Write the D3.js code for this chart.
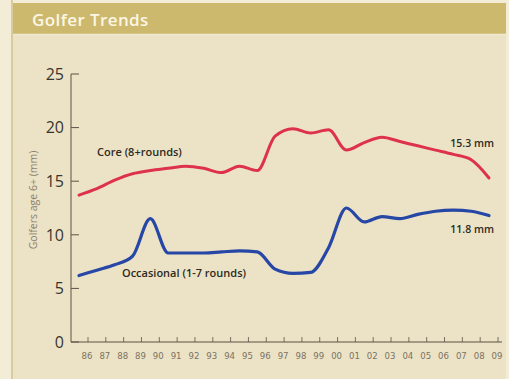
<!DOCTYPE html>
<html>
<head>
<meta charset="utf-8">
<script src="https://cdn.jsdelivr.net/npm/d3@7/dist/d3.min.js"></script>
<style>
  html, body { margin: 0; padding: 0; background: #f3ecd6; }
  svg { display: block; }
</style>
</head>
<body>
<svg id="chart" width="509" height="379"></svg>
<script>
// Golfers age 6+ (millions), by year
const years = d3.range(1986, 2010);
const yearLabels = ["86","87","88","89","90","91","92","93","94","95","96","97",
                    "98","99","00","01","02","03","04","05","06","07","08","09"];
const coreValues = [13.7, 14.3, 15.1, 15.7, 16.0, 16.2, 16.4, 16.2, 15.8, 16.4, 16.0, 19.2,
                    19.9, 19.5, 19.8, 17.9, 18.6, 19.1, 18.7, 18.3, 17.9, 17.5, 17.0, 15.3];
const occasionalValues = [6.2, 6.7, 7.2, 8.0, 11.5, 8.3, 8.3, 8.3, 8.4, 8.5, 8.4, 6.8,
                          6.4, 6.5, 8.8, 12.5, 11.2, 11.7, 11.5, 11.9, 12.2, 12.3, 12.2, 11.8];
const yTicks = [0, 5, 10, 15, 20, 25];

const svg = d3.select("#chart");
const W = 509, H = 379;
const font = "'Open Sans', 'DejaVu Sans', sans-serif";

// frame: outer strip, thin rule, panel, title bar
svg.append("rect").attr("x", 0).attr("y", 0).attr("width", W).attr("height", H).attr("fill", "#f3ecd6");
svg.append("rect").attr("x", 12).attr("y", 3).attr("width", 494).attr("height", H - 3).attr("fill", "#ece3c6");
svg.append("line").attr("x1", 12).attr("x2", 12).attr("y1", 0).attr("y2", H)
  .attr("stroke", "#d8cc9e").attr("stroke-width", 2);
svg.append("rect").attr("x", 13).attr("y", 3).attr("width", 493).attr("height", 31).attr("fill", "#cdb96d");
svg.append("line").attr("x1", 13).attr("x2", 506).attr("y1", 34.5).attr("y2", 34.5)
  .attr("stroke", "#f1e9cf").attr("stroke-width", 1.5);
svg.append("text").attr("x", 32).attr("y", 25.5)
  .attr("font-family", font)
  .attr("font-weight", 600).attr("font-size", 17).attr("fill", "#fbf6e6")
  .attr("letter-spacing", 0.4)
  .text("Golfer Trends");

const x = d3.scaleLinear().domain([1986, 2009]).range([79, 489]);
const y = d3.scaleLinear().domain([0, 25]).range([342, 74]);
const axisX0 = 71, axisX1 = 502;

// y axis
const gy = svg.append("g").attr("transform", `translate(${axisX0},0)`);
gy.append("line").attr("x1", 0).attr("x2", 0).attr("y1", y(25)).attr("y2", y(0))
  .attr("stroke", "#5a5246").attr("stroke-width", 1);
gy.selectAll("line.tick").data(yTicks).join("line").attr("class", "tick")
  .attr("x1", 0).attr("x2", 8).attr("y1", d => y(d)).attr("y2", d => y(d))
  .attr("stroke", "#5a5246").attr("stroke-width", 1);
gy.selectAll("text").data(yTicks).join("text")
  .attr("x", -7).attr("y", d => y(d)).attr("dy", "0.36em")
  .attr("text-anchor", "end")
  .attr("font-family", font)
  .attr("font-size", 16).attr("fill", "#3a342c")
  .text(d => d);

svg.append("text")
  .attr("transform", "translate(37,200) rotate(-90)")
  .attr("text-anchor", "middle")
  .attr("font-family", font)
  .attr("font-size", 10.5).attr("fill", "#8a8170")
  .text("Golfers age 6+ (mm)");

// x axis
const gx = svg.append("g").attr("transform", `translate(0,${y(0)})`);
gx.append("line").attr("x1", axisX0).attr("x2", axisX1).attr("y1", 0).attr("y2", 0)
  .attr("stroke", "#5a5246").attr("stroke-width", 1);
gx.selectAll("line.tick").data(years).join("line").attr("class", "tick")
  .attr("x1", d => x(d) + 9).attr("x2", d => x(d) + 9).attr("y1", 0).attr("y2", -5)
  .attr("stroke", "#5a5246").attr("stroke-width", 0.8);
gx.selectAll("text").data(years).join("text")
  .attr("x", d => x(d) + 8).attr("y", 17)
  .attr("text-anchor", "middle")
  .attr("font-family", "'Liberation Sans Narrow', 'DejaVu Sans Condensed', sans-serif")
  .attr("font-size", 9.5).attr("fill", "#7a7262")
  .text((d, i) => yearLabels[i]);

// series lines
const line = d3.line().x(d => x(d.year)).y(d => y(d.v)).curve(d3.curveMonotoneX);
const toPts = vals => years.map((yr, i) => ({ year: yr, v: vals[i] }));

svg.append("path").datum(toPts(coreValues)).attr("d", line)
  .attr("fill", "none").attr("stroke", "#de324c").attr("stroke-width", 3)
  .attr("stroke-linejoin", "round").attr("stroke-linecap", "round");
svg.append("path").datum(toPts(occasionalValues)).attr("d", line)
  .attr("fill", "none").attr("stroke", "#2747a6").attr("stroke-width", 3.2)
  .attr("stroke-linejoin", "round").attr("stroke-linecap", "round");

// labels
function label(tx, ty, txt, size, anchor) {
  svg.append("text").attr("x", tx).attr("y", ty)
    .attr("text-anchor", anchor || "start")
    .attr("font-family", font).attr("font-weight", 600)
    .attr("font-size", size).attr("fill", "#2e2a22")
    .text(txt);
}
label(97, 156, "Core (8+rounds)", 11);
label(122, 277, "Occasional (1-7 rounds)", 11);
label(494, 147, `${coreValues[coreValues.length - 1].toFixed(1)} mm`, 10.5, "end");
label(494, 233, `${occasionalValues[occasionalValues.length - 1].toFixed(1)} mm`, 10.5, "end");
</script>
</body>
</html>
